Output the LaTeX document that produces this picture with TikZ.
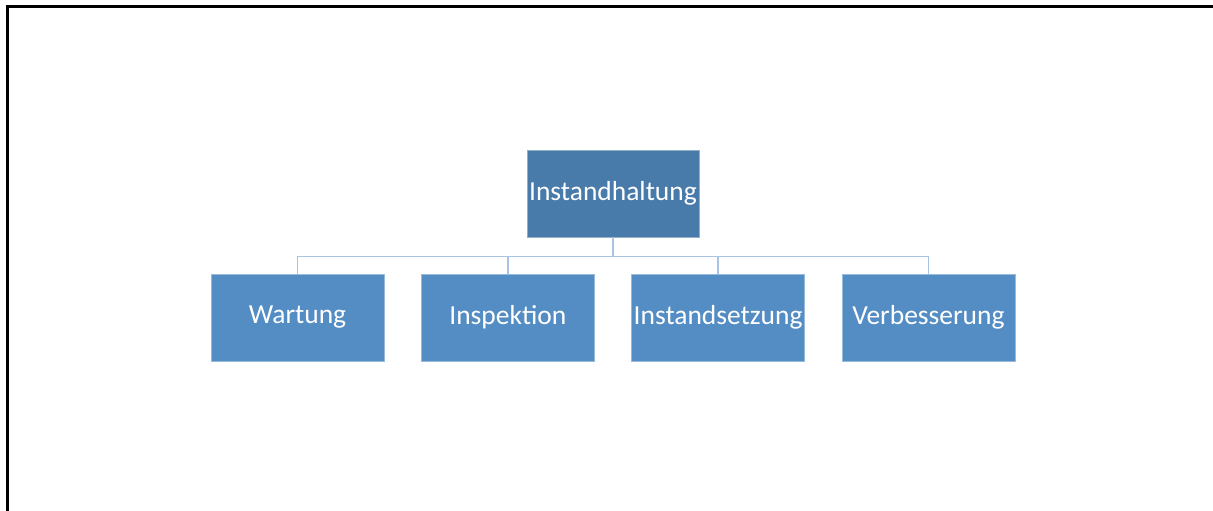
\documentclass[tikz,border=0pt]{standalone}
\usepackage{fontspec}
\setmainfont{Carlito}
\definecolor{topblue}{HTML}{497BAA}
\definecolor{childblue}{HTML}{548DC4}
\definecolor{linkblue}{HTML}{A8C3E4}
\begin{document}
\begin{tikzpicture}[x=1pt,y=-1pt,
  rootbox/.style={rectangle, fill=topblue, draw=topblue!60!white, line width=0.6pt,
    minimum width=172pt, minimum height=87pt, inner sep=0pt,
    text=white, font=\fontsize{27.5}{32}\selectfont},
  childbox/.style={rectangle, fill=childblue, draw=childblue!60!white, line width=0.6pt,
    minimum width=173pt, minimum height=87pt, inner sep=0pt,
    text=white, font=\fontsize{27.5}{32}\selectfont},
  link/.style={draw=linkblue, line width=1.6pt}]
  \useasboundingbox (0,0) rectangle (1213,511);
  % frame
  \draw[line width=3pt, line join=miter] (7,512) -- (7,7) -- (1214,7);
  % hierarchy
  \node[rootbox] (root) at (613,193.5) {\raisebox{-1pt}{Instandhaltung}};
  \node[childbox] (c1) at (297.5,317.5) {\raisebox{-1.5pt}{Wartung}};
  \node[childbox] (c2) at (507.8,317.5) {\raisebox{-1.5pt}{Inspektion}};
  \node[childbox] (c3) at (718.1,317.5) {\raisebox{-1.5pt}{Instandsetzung}};
  \node[childbox] (c4) at (928.4,317.5) {\raisebox{-1.5pt}{Verbesserung}};
  \foreach \c in {c1,c2,c3,c4}
    \draw[link] (root.south) -- ++(0,19.3) -| (\c.north);
\end{tikzpicture}
\end{document}
